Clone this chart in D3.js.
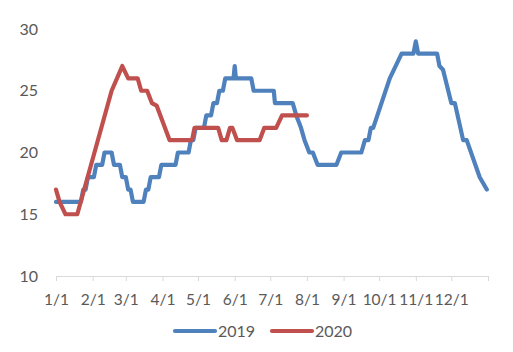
<!DOCTYPE html>
<html><head><meta charset="utf-8">
<script src="https://cdn.jsdelivr.net/npm/d3@7"></script>
<style>
html,body{margin:0;padding:0;background:#fff;}
svg{display:block;}
text{font-family:Lato,"Open Sans",sans-serif;}
</style></head>
<body><div id="chart"></div>
<script>
const xTickDates = ["1/1","2/1","3/1","4/1","5/1","6/1","7/1","8/1","9/1","10/1","11/1","12/1","13/1"];
const xTickLabels = ["1/1","2/1","3/1","4/1","5/1","6/1","7/1","8/1","9/1","10/1","11/1","12/1",""];
const yTicks = [10,15,20,25,30];
const seriesNames = ["2019","2020"];
const seriesColors = ["#4F81BD","#C0504D"];

const dates2019 = ["1/1","1/22","1/24","1/26","1/28","2/2","2/4","2/9","2/11","2/17","2/19","2/24","2/26","3/1","3/3","3/5","3/7","3/16","3/18","3/20","3/22","3/29","3/31","4/12","4/14","4/23","4/25","4/27","4/29","5/6","5/8","5/12","5/14","5/17","5/19","5/22","5/24","5/31","6/1","6/2","6/15","6/17","7/4","7/5","7/20","7/23","7/27","7/30","8/3","8/6","8/10","8/26","8/30","9/16","9/19","9/22","9/24","9/26","10/10","10/20","10/30","11/1","11/3","11/19","11/21","11/24","12/1","12/4","12/11","12/14","12/25","12/31"];
const values2019 = [16,16,17,17,18,18,19,19,20,20,19,19,18,18,17,17,16,16,17,17,18,18,19,19,20,20,21,21,22,22,23,23,24,24,25,25,26,26,27,26,26,25,25,24,24,23,22,21,20,20,19,19,20,20,21,21,22,22,26,28,28,29,28,28,27,26.7,24,24,21,21,18,17];

const dates2020 = ["1/1","1/4","1/9","1/19","2/17","2/26","3/3","3/11","3/14","3/19","3/23","3/27","4/7","4/26","4/28","5/18","5/21","5/25","5/28","5/30","6/3","6/22","6/26","7/6","7/11","8/1"];
const values2020 = [17,16,15,15,25,27,26,26,25,25,24,23.8,21,21,22,22,21,21,22,22,21,21,22,22,23,23];

const W = 513, H = 352;
const parse = s => { const [m,d] = s.split("/").map(Number); return new Date(2019, m-1, d); };

const svg = d3.select("#chart").append("svg").attr("width", W).attr("height", H);

const x = d3.scaleTime().domain([parse("1/1"), parse("13/1")]).range([56, 488]);
const y = d3.scaleLinear().domain([10, 30]).range([276, 29]);

// x axis
const xAxis = d3.axisBottom(x)
  .tickValues(xTickDates.map(parse))
  .tickFormat((d, i) => xTickLabels[i])
  .tickSize(5).tickPadding(13);
const gx = svg.append("g").attr("transform", "translate(0,276)").call(xAxis);
gx.select(".domain").attr("stroke", "#D9D9D9").attr("stroke-width", 1);
gx.selectAll(".tick line").attr("stroke", "#D9D9D9");
gx.selectAll(".tick text").attr("fill", "#595959").attr("font-size", 15.5).attr("font-family", "Lato");

// y axis
const yAxis = d3.axisLeft(y).tickValues(yTicks).tickSize(0).tickPadding(0);
const gy = svg.append("g").attr("transform", "translate(38,0)").call(yAxis);
gy.select(".domain").remove();
gy.selectAll(".tick text").attr("fill", "#595959").attr("font-size", 16).attr("font-family", "Lato");

const line = d3.line().x(d => x(d[0])).y(d => y(d[1]));
const data = [
  dates2019.map((d, i) => [parse(d), values2019[i]]),
  dates2020.map((d, i) => [parse(d), values2020[i]])
];
data.forEach((ser, i) => {
  svg.append("path").datum(ser).attr("d", line)
    .attr("fill", "none").attr("stroke", seriesColors[i])
    .attr("stroke-width", 4.2).attr("stroke-linejoin", "round").attr("stroke-linecap", "round");
});

// legend
const legendX = [175, 272];
seriesNames.forEach((name, i) => {
  const g = svg.append("g");
  g.append("line").attr("x1", legendX[i]).attr("x2", legendX[i] + 40)
    .attr("y1", 331).attr("y2", 331)
    .attr("stroke", seriesColors[i]).attr("stroke-width", 4.2).attr("stroke-linecap", "round");
  g.append("text").attr("x", legendX[i] + 43).attr("y", 331).attr("dy", "0.35em")
    .attr("fill", "#595959").attr("font-size", 16).text(name);
});
</script></body></html>
